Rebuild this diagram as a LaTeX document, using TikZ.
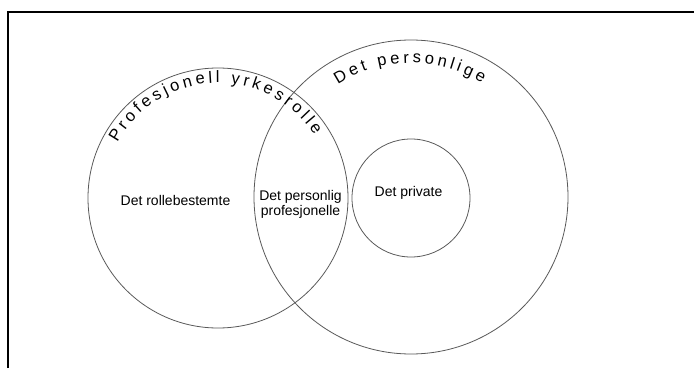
\documentclass[tikz,border=0pt]{standalone}
\usepackage{fontspec}
\setmainfont{Liberation Sans}
\usetikzlibrary{decorations.text}

\begin{document}
\begin{tikzpicture}[x=1pt, y=1pt,
  ring/.style={draw=black!65, line width=0.8pt, circle, inner sep=0pt},
  label/.style={font=\fontsize{14}{15}\selectfont, align=center, inner sep=0pt},
  frame/.style={draw=black, line width=2pt}]
  \useasboundingbox (0, 0) rectangle (694, 368);

  % Frame (top and left edge only)
  \coordinate (fb) at (8, 0);
  \coordinate (fc) at (8, 356);
  \coordinate (fr) at (694, 356);
  \draw[frame] (fb) -- (fc) -- (fr);

  % Circles
  \node[ring, minimum size=260pt] (rolle) at (218, 170) {};
  \node[ring, minimum size=314pt] (person) at (411, 171) {};
  \node[ring, minimum size=118pt] (privat) at (411, 170) {};

  % Curved titles
  \path[decorate, decoration={text along path, text align=fit to path,
      text={|\fontsize{16.5}{18}\selectfont|Profesjonell yrkesrolle}}]
    ([shift={(151:115pt)}]rolle.center) arc[start angle=151, end angle=33, radius=115pt];
  \path[decorate, decoration={text along path, text align=fit to path,
      text={|\fontsize{16.5}{18}\selectfont|Det personlige}}]
    ([shift={(123:134pt)}]person.center) arc[start angle=123, end angle=58, radius=134pt];

  % Region labels
  \node[label] (bestemt) at (175.5, 168) {Det rollebestemte};
  \node[label] (profesj) at (300.5, 164) {Det personlig\\profesjonelle};
  \node[label] (privtxt) at (408.5, 175) {Det private};
\end{tikzpicture}
\end{document}
